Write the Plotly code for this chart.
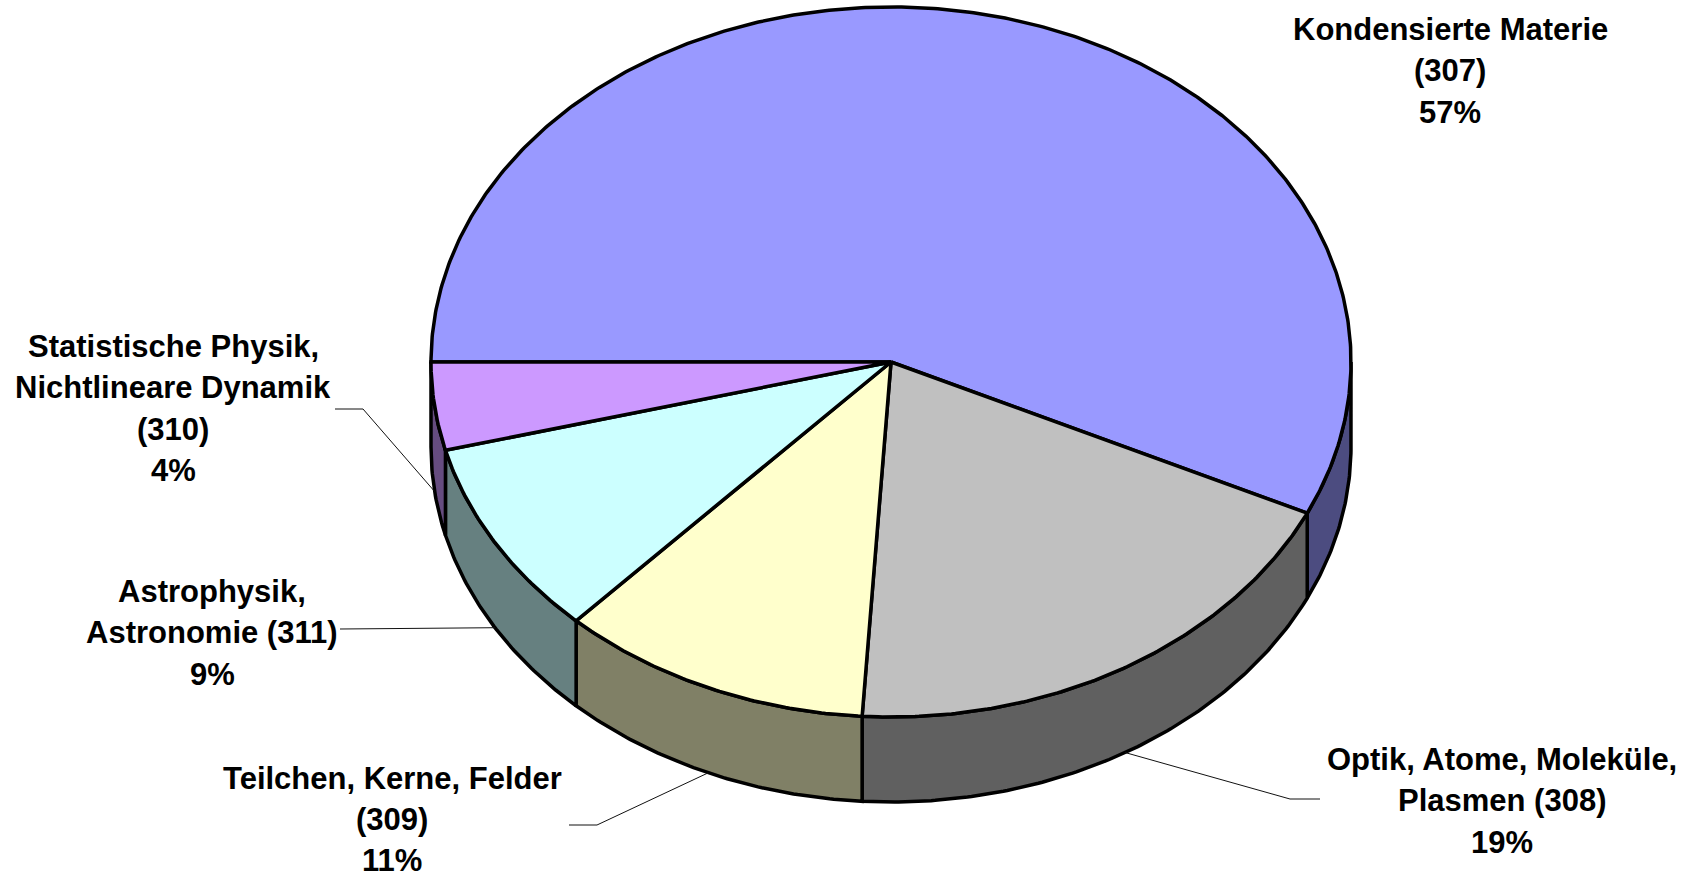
import numpy as np
import plotly.graph_objects as go

# ---------------- data ----------------
categories = ["Kondensierte Materie", "Optik, Atome, Moleküle, Plasmen",
              "Teilchen, Kerne, Felder", "Astrophysik, Astronomie",
              "Statistische Physik, Nichtlineare Dynamik"]
codes = [307, 308, 309, 311, 310]
shares = [57, 19, 11, 9, 4]

# display line splits of the category names
category_lines = [["Kondensierte Materie"],
                  ["Optik, Atome, Moleküle,", "Plasmen"],
                  ["Teilchen, Kerne, Felder"],
                  ["Astrophysik,", "Astronomie"],
                  ["Statistische Physik,", "Nichtlineare Dynamik"]]
code_inline = [False, True, False, True, False]

# ---------------- style / layout ----------------
top_colors = ["#9999FF", "#C0C0C0", "#FFFFCC", "#CCFFFF", "#CC99FF"]
side_colors = ["#4C4C80", "#606060", "#808066", "#668080", "#664C80"]

W, H = 1694, 882
CX, CY, RX, RY, DEPTH = 891, 362, 460, 355, 85
START = 180.0
OUTLINE = 3.5

# label placement: (x center, first line y, line gap, leader knee points from text side)
label_pos = [
    (1450, 29, 41.5, None),
    (1502, 759, 41.5, [(1320, 799), (1290, 799)]),
    (392, 778, 41.0, [(569, 825), (597, 825)]),
    (212, 591, 41.5, [(340, 629)]),
    (173, 346, 41.5, [(335, 409), (363, 409)]),
]
FONT = dict(family="Liberation Sans, Arial, sans-serif", size=31, color="black")


def ell(theta, dz=0.0):
    t = np.radians(theta)
    return CX + RX * np.cos(t), CY - RY * np.sin(t) + dz


total = float(sum(shares))
bounds = [START]
for s in shares:
    bounds.append(bounds[-1] - 360.0 * s / total)

fig = go.Figure()

# side walls (front half only: angles between -180 and 0)
for i in range(len(shares)):
    a, b = bounds[i], bounds[i + 1]
    hi, lo = min(a, 0.0), max(b, -180.0)
    if hi <= lo:
        continue
    n = max(int((hi - lo) * 2), 4)
    th = np.linspace(hi, lo, n)
    xt, yt = ell(th)
    xb, yb = ell(th[::-1], DEPTH)
    xs = np.concatenate([xt, xb, xt[:1]])
    ys = np.concatenate([yt, yb, yt[:1]])
    fig.add_trace(go.Scatter(x=xs, y=ys, mode="lines", fill="toself",
                             fillcolor=side_colors[i],
                             line=dict(color="black", width=OUTLINE),
                             hoverinfo="skip", showlegend=False))

# top faces
for i in range(len(shares)):
    a, b = bounds[i], bounds[i + 1]
    n = max(int((a - b) * 2), 4)
    th = np.linspace(a, b, n)
    xa, ya = ell(th)
    xs = np.concatenate([[CX], xa, [CX]])
    ys = np.concatenate([[CY], ya, [CY]])
    fig.add_trace(go.Scatter(x=xs, y=ys, mode="lines", fill="toself",
                             fillcolor=top_colors[i],
                             line=dict(color="black", width=OUTLINE),
                             hoverinfo="skip", showlegend=False))

# leader lines and labels
for i in range(len(shares)):
    lx, ly, gap, knees = label_pos[i]
    if knees:
        mid = (bounds[i] + bounds[i + 1]) / 2.0
        px, py = ell(mid, DEPTH)
        xs = [k[0] for k in knees] + [px]
        ys = [k[1] for k in knees] + [py]
        fig.add_trace(go.Scatter(x=xs, y=ys, mode="lines",
                                 line=dict(color="#111111", width=1),
                                 hoverinfo="skip", showlegend=False))
    lines = list(category_lines[i])
    if code_inline[i]:
        lines[-1] = f"{lines[-1]} ({codes[i]})"
    else:
        lines.append(f"({codes[i]})")
    lines.append(f"{shares[i]}%")
    for j, t in enumerate(lines):
        fig.add_annotation(x=lx, y=ly + j * gap, text=f"<b>{t}</b>",
                           showarrow=False, xanchor="center", yanchor="middle",
                           borderpad=0, font=FONT)

fig.update_layout(
    width=W, height=H,
    margin=dict(l=0, r=0, t=0, b=0),
    paper_bgcolor="white", plot_bgcolor="white",
    showlegend=False,
    xaxis=dict(range=[0, W], visible=False, fixedrange=True),
    yaxis=dict(range=[H, 0], visible=False, fixedrange=True),
)

fig.write_html("out.html")
